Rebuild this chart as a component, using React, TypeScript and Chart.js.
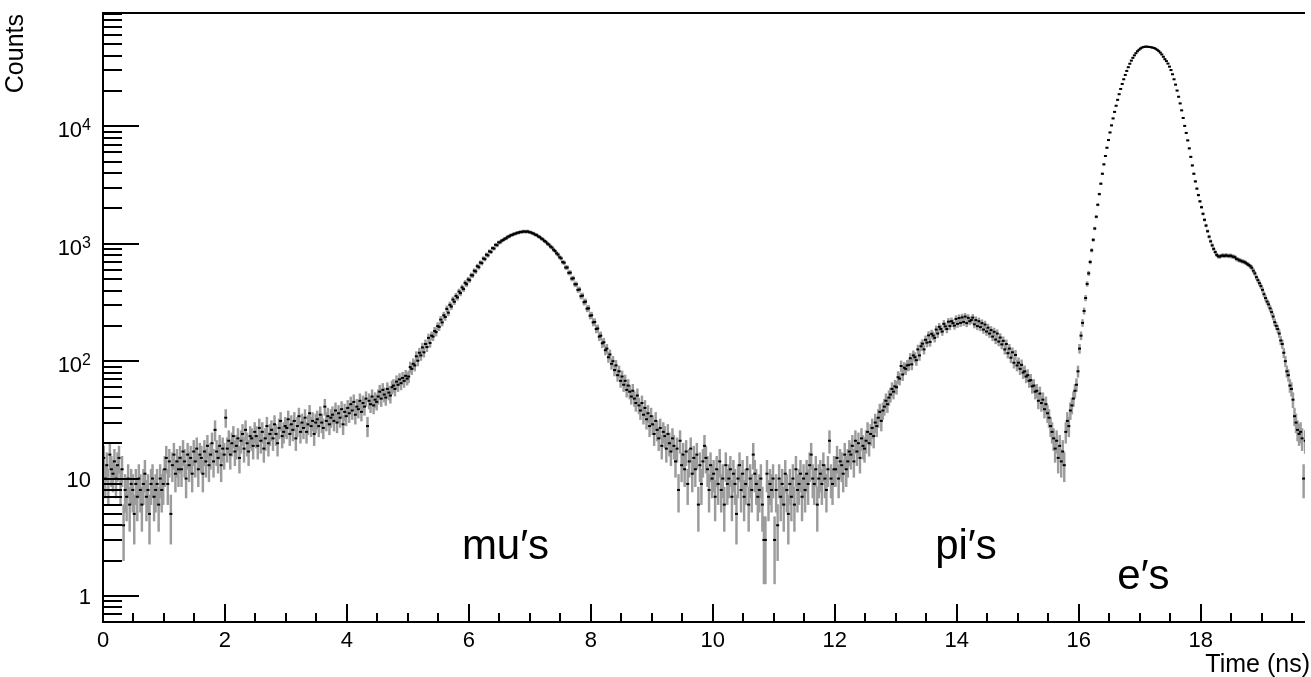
import React, { useEffect, useRef } from 'react';
import { Chart, registerables } from 'chart.js';

Chart.register(...registerables);

// ---- data -------------------------------------------------------------
const BIN_WIDTH = 0.025; // ns per histogram bin

// 0 - 4 ns
const countsA = [
  15, 10, 13, 9, 16, 12, 11, 14, 10, 13,
  15, 9, 12, 4, 8, 7, 10, 6, 9, 8,
  5, 9, 7, 10, 8, 6, 9, 11, 7, 8,
  5, 9, 10, 7, 8, 9, 6, 10, 8, 9,
  12, 15, 9, 14, 5, 13, 16, 11, 14, 12,
  15, 12, 17, 14, 10, 16, 13, 15, 11, 17,
  14, 18, 12, 16, 15, 11, 17, 14, 19, 13,
  16, 20, 14, 26, 17, 15, 19, 13, 18, 16,
  33, 18, 21, 16, 20, 23, 17, 19, 22, 15,
  21, 24, 18, 26, 20, 17, 23, 22, 19, 25,
  23, 19, 27, 21, 25, 18, 22, 28, 20, 24,
  26, 22, 29, 24, 20, 27, 31, 23, 25, 28,
  27, 32, 24, 29, 26, 31, 22, 28, 34, 25,
  30, 27, 33, 25, 29, 36, 28, 31, 24, 30,
  32, 28, 35, 30, 27, 41, 31, 34, 29, 33,
  35, 31, 38, 30, 36, 33, 39, 29, 37, 34,
];

// 4 - 8 ns
const countsB = [
  40, 36, 43, 38, 45, 35, 41, 39, 46, 37,
  44, 41, 48, 28, 46, 43, 50, 42, 47, 45,
  50, 55, 48, 57, 52, 49, 58, 54, 51, 60,
  62, 58, 67, 63, 70, 65, 72, 68, 75, 71,
  74, 89, 86, 95, 92, 110, 101, 118, 112, 131,
  119, 140, 132, 158, 143, 165, 162, 181, 177, 199,
  196, 226, 214, 246, 238, 279, 259, 302, 292, 335,
  321, 360, 349, 392, 380, 425, 411, 465, 452, 497,
  490, 540, 538, 590, 582, 645, 632, 692, 684, 750,
  740, 808, 796, 862, 851, 918, 912, 980, 972, 1028,
  1030, 1064, 1076, 1104, 1114, 1148, 1156, 1184, 1190, 1214,
  1218, 1240, 1242, 1261, 1258, 1274, 1271, 1266, 1276, 1257,
  1252, 1233, 1221, 1196, 1186, 1156, 1141, 1108, 1092, 1058,
  1039, 1003, 984, 948, 929, 891, 869, 830, 809, 768,
  752, 698, 690, 628, 628, 566, 568, 505, 508, 452,
  452, 405, 408, 358, 362, 318, 322, 280, 282, 244,
];

// 8 - 12 ns
const countsC = [
  246, 214, 216, 188, 190, 162, 165, 142, 145, 124,
  128, 108, 114, 95, 100, 84, 92, 76, 82, 68,
  74, 63, 68, 57, 62, 55, 50, 56, 48, 44,
  51, 42, 38, 44, 35, 40, 32, 36, 28, 34,
  29, 24, 31, 26, 22, 27, 19, 25, 23, 18,
  24, 20, 17, 22, 19, 14, 18, 8, 21, 13,
  16, 12, 17, 9, 14, 18, 11, 15, 12, 16,
  6, 13, 9, 14, 19, 15, 12, 8, 13, 10,
  11, 7, 12, 9, 14, 8, 10, 6, 13, 9,
  10, 12, 7, 11, 9, 5, 10, 13, 8, 11,
  7, 9, 12, 6, 10, 8, 16, 11, 9, 7,
  8, 10, 6, 3, 3, 11, 7, 9, 8, 10,
  3, 8, 4, 10, 7, 9, 6, 11, 8, 5,
  9, 7, 10, 6, 12, 8, 9, 11, 7, 10,
  8, 11, 9, 13, 16, 10, 9, 12, 6, 10,
  11, 9, 13, 10, 8, 12, 21, 10, 9, 12,
];

// 12 - 16 ns
const countsD = [
  12, 15, 10, 14, 13, 11, 16, 12, 14, 17,
  16, 19, 14, 21, 17, 20, 15, 22, 19, 18,
  21, 25, 20, 24, 27, 23, 30, 28, 33, 37,
  31, 38, 41, 46, 43, 49, 52, 58, 55, 61,
  60, 73, 71, 91, 77, 88, 86, 92, 93, 106,
  94, 112, 108, 102, 126, 112, 134, 141, 126, 152,
  144, 166, 146, 171, 165, 158, 186, 172, 196, 188,
  179, 208, 198, 188, 217, 199, 219, 211, 201, 229,
  208, 233, 212, 236, 216, 240, 211, 234, 219, 224,
  235, 206, 224, 199, 219, 195, 211, 186, 205, 179,
  193, 172, 184, 162, 178, 153, 172, 147, 159, 139,
  149, 126, 140, 117, 128, 107, 119, 97, 113, 92,
  97, 86, 93, 80, 82, 74, 76, 68, 69, 61,
  62, 55, 56, 46, 53, 44, 47, 39, 43, 36,
  33, 28, 25, 22, 18, 21, 15, 19, 14, 17,
  13, 25, 31, 28, 38, 42, 48, 56, 63, 82,
];

// 16 - 19.725 ns
const countsE = [
  128, 165, 212, 268, 345, 455, 560, 700, 880, 1080,
  1350, 1700, 2150, 2650, 3250, 3950, 4750, 5600, 6580, 7650,
  8880, 10200, 11700, 13300, 15000, 16850, 18800, 20850, 23000, 25200,
  27450, 29700, 31950, 34200, 36350, 38400, 40300, 42050, 43650, 45000,
  46100, 46950, 47500, 47800, 47800, 47700, 47500, 47200, 46900, 46500,
  45800, 44900, 43800, 42500, 41000, 39200, 37400, 36000, 34300, 32300,
  30200, 27800, 25200, 22700, 20200, 17900, 15700, 13700, 11800, 10100,
  8800, 7600, 6500, 5500, 4650, 3950, 3400, 2950, 2600, 2300,
  2050, 1800, 1600, 1430, 1280, 1150, 1050, 970, 905, 850,
  805, 782, 778, 790, 796, 788, 798, 792, 786, 794,
  781, 776, 768, 742, 735, 722, 716, 706, 701, 688,
  674, 660, 645, 625, 590, 560, 520, 490, 462, 436,
  405, 372, 345, 322, 305, 282, 262, 240, 215, 200,
  188, 172, 150, 140, 118, 100, 82, 76, 62, 58,
  47, 34, 30, 26, 24, 25, 22, 10, 21,
];

const counts = [...countsA, ...countsB, ...countsC, ...countsD, ...countsE];
const binCenters = counts.map((_, i) => (i + 0.5) * BIN_WIDTH);

// axes
const X_MIN = 0;
const X_MAX = 19.71;
const Y_MIN = 0.638;
const Y_MAX = 92500;
const xMajorTicks = [0, 2, 4, 6, 8, 10, 12, 14, 16, 18];
const xTickLabels = ['0', '2', '4', '6', '8', '10', '12', '14', '16', '18'];
const X_MINOR_STEP = 0.5;
const yDecades = [1, 10, 100, 1000, 10000];
const yDecadeBase = ['1', '10', '10', '10', '10'];
const yDecadeExp = ['', '', '2', '3', '4'];
const xTitle = 'Time (ns)';
const yTitle = 'Counts';
const labelTexts = ['mu′s', 'pi′s', 'e′s'];
const labelX = [6.6, 14.15, 17.06];
const labelY = [2.06, 2.06, 1.146];

const FONT = '"Liberation Sans", Arial, Helvetica, sans-serif';

// ---- ROOT-like frame, ticks and labels --------------------------------
const rootFrame = {
  id: 'rootFrame',
  afterDraw(chart: any) {
    const { ctx, chartArea: ca } = chart;
    const xs = chart.scales.x;
    const ys = chart.scales.y;
    ctx.save();
    ctx.strokeStyle = '#000';
    ctx.fillStyle = '#000';
    ctx.lineWidth = 2;
    ctx.beginPath();
    ctx.moveTo(ca.left, ca.top);
    ctx.lineTo(ca.right, ca.top);
    ctx.moveTo(ca.left, ca.top - 1);
    ctx.lineTo(ca.left, ca.bottom + 1);
    ctx.moveTo(ca.left, ca.bottom);
    ctx.lineTo(ca.right, ca.bottom);
    // x ticks
    for (let v = X_MIN; v <= X_MAX + 1e-9; v += X_MINOR_STEP) {
      const px = Math.round(xs.getPixelForValue(v));
      const isMajor = xMajorTicks.some((t) => Math.abs(t - v) < 1e-6);
      const len = isMajor ? 18 : 9;
      ctx.moveTo(px, ca.bottom);
      ctx.lineTo(px, ca.bottom - len);
    }
    // y ticks
    for (let d = -1; d <= 5; d++) {
      for (let m = 1; m <= 9; m++) {
        const v = m * Math.pow(10, d);
        if (v < Y_MIN || v > Y_MAX) continue;
        const py = Math.round(ys.getPixelForValue(v));
        const len = m === 1 ? 36 : 19;
        ctx.moveTo(ca.left, py);
        ctx.lineTo(ca.left + len, py);
      }
    }
    ctx.stroke();

    // x tick labels
    ctx.font = `22px ${FONT}`;
    ctx.textAlign = 'center';
    ctx.textBaseline = 'alphabetic';
    xMajorTicks.forEach((v, i) => {
      ctx.fillText(xTickLabels[i], xs.getPixelForValue(v), ca.bottom + 25);
    });

    // y tick labels
    const rightEdge = ca.left - 12;
    yDecades.forEach((v, i) => {
      const py = ys.getPixelForValue(v);
      const base = yDecadeBase[i];
      const exp = yDecadeExp[i];
      ctx.textAlign = 'left';
      if (exp) {
        ctx.font = `16px ${FONT}`;
        const we = ctx.measureText(exp).width;
        ctx.font = `22px ${FONT}`;
        const wb = ctx.measureText(base).width;
        const x0 = rightEdge - we - wb;
        ctx.fillText(base, x0, py + 11);
        ctx.font = `16px ${FONT}`;
        ctx.fillText(exp, x0 + wb, py + 4);
      } else {
        ctx.font = `22px ${FONT}`;
        ctx.textAlign = 'right';
        ctx.fillText(base, rightEdge, py + 8);
      }
    });

    // axis titles
    ctx.font = `25px ${FONT}`;
    ctx.textAlign = 'right';
    ctx.fillText(xTitle, chart.width - 1, ca.bottom + 50);
    ctx.save();
    ctx.translate(23, ca.top + 1);
    ctx.rotate(-Math.PI / 2);
    ctx.textAlign = 'right';
    ctx.fillText(yTitle, 0, 0);
    ctx.restore();

    // particle labels
    ctx.font = `42px ${FONT}`;
    ctx.textAlign = 'center';
    labelTexts.forEach((t, i) => {
      ctx.fillText(t, xs.getPixelForValue(labelX[i]), ys.getPixelForValue(labelY[i]));
    });
    ctx.restore();
  },
};

export default function App() {
  const ref = useRef<HTMLCanvasElement | null>(null);

  useEffect(() => {
    if (!ref.current) return;
    const errorBars = counts.map((c, i) => ({
      x: binCenters[i],
      y: [c - Math.sqrt(c), c + Math.sqrt(c)],
    }));
    const points = counts.map((c, i) => ({ x: binCenters[i], y: c }));

    const chart = new Chart(ref.current, {
      type: 'scatter',
      data: {
        datasets: [
          {
            type: 'bar',
            data: errorBars as any,
            backgroundColor: '#9c9c9c',
            borderWidth: 0,
            barThickness: 1.8,
            order: 2,
          } as any,
          {
            type: 'scatter',
            data: points,
            showLine: false,
            pointStyle: 'line',
            pointRadius: 1.5,
            pointBorderWidth: 2,
            borderColor: '#000',
            backgroundColor: '#000',
            pointBorderColor: '#000',
            order: 1,
          } as any,
        ],
      },
      options: {
        responsive: false,
        devicePixelRatio: 1,
        animation: false,
        events: [],
        layout: { padding: { left: 103, top: 13, right: 0, bottom: 55 } },
        plugins: { legend: { display: false }, tooltip: { enabled: false } },
        scales: {
          x: { type: 'linear', min: X_MIN, max: X_MAX, display: false, offset: false },
          y: { type: 'logarithmic', min: Y_MIN, max: Y_MAX, display: false },
        },
      } as any,
      plugins: [rootFrame],
    });
    return () => chart.destroy();
  }, []);

  return (
    <div style={{ position: 'fixed', left: 0, top: 0, width: 1311, height: 677, background: '#fff' }}>
      <canvas ref={ref} width={1311} height={677} style={{ display: 'block' }} />
    </div>
  );
}
